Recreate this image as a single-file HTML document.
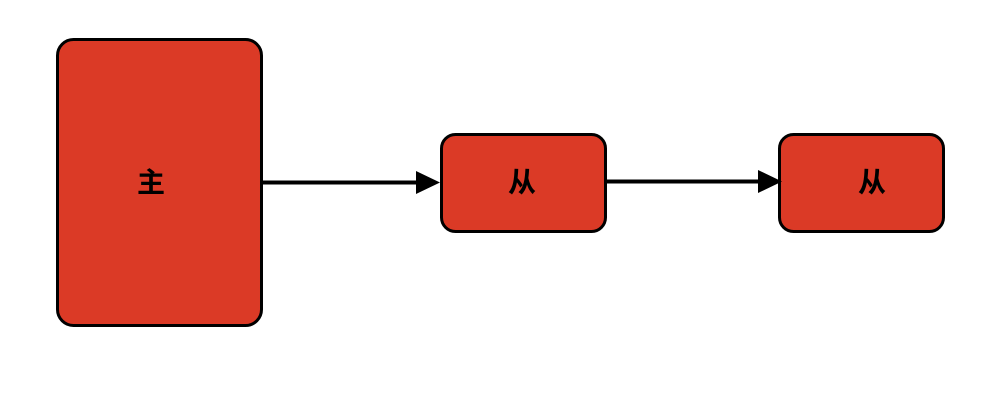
<!DOCTYPE html>
<html><head><meta charset="utf-8"><style>
body{margin:0;background:#fff;}
</style></head><body>
<svg width="994" height="418" xmlns="http://www.w3.org/2000/svg" style="display:block">
<rect x="57.5" y="39.5" width="204" height="286" rx="16" fill="#db3a26" stroke="#000" stroke-width="3"/>
<rect x="441.5" y="134.5" width="164" height="97" rx="14" fill="#db3a26" stroke="#000" stroke-width="3"/>
<rect x="779.5" y="134.5" width="164" height="97" rx="14" fill="#db3a26" stroke="#000" stroke-width="3"/>
<line x1="261" y1="182.5" x2="418" y2="182.5" stroke="#000" stroke-width="4"/>
<polygon points="416,171 440,182.5 416,194" fill="#000"/>
<line x1="605" y1="181.5" x2="760" y2="181.5" stroke="#000" stroke-width="4"/>
<polygon points="758,170 782,181.5 758,193" fill="#000"/>
<g font-family="'Liberation Sans','Noto Sans CJK SC',sans-serif" font-size="28" font-weight="bold" text-anchor="middle" fill="#000">
<text x="151" y="192">主</text>
<text x="522" y="192">从</text>
<text x="872" y="192">从</text>
</g>
</svg>
</body></html>
